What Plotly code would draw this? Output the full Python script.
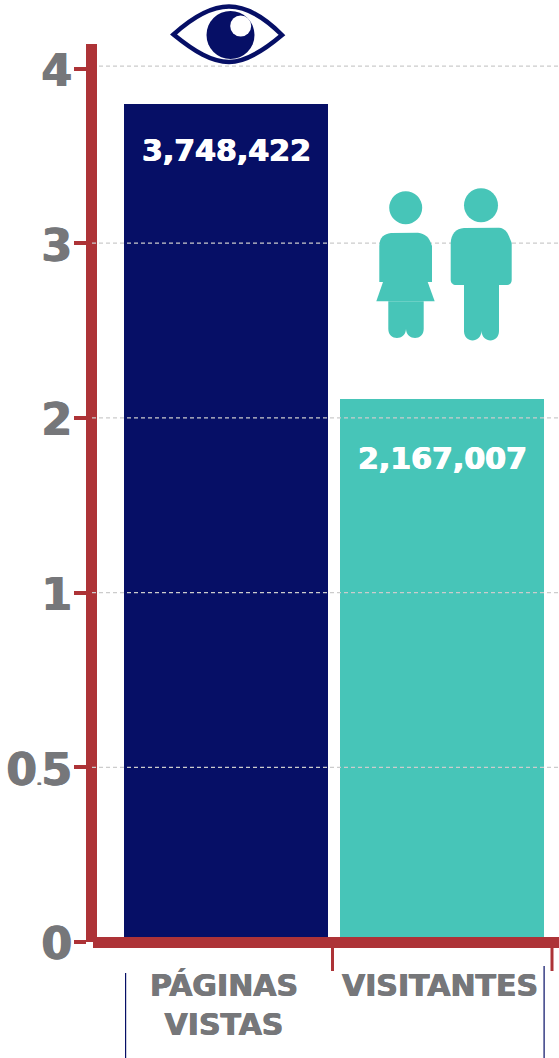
import plotly.graph_objects as go

categories = ["PÁGINAS<br>VISTAS", "VISITANTES"]
bar_levels = [4.797, 3.108]
value_labels = ["3,748,422", "2,167,007"]
label_levels = [4.533, 2.765]
bar_colors = ["#060f66", "#47c5b8"]
tick_levels = [0, 1, 2, 3, 4, 5]
tick_labels = ["0", "0<span style='font-size:12px'>.</span>5", "1", "2", "3", "4"]
grid_levels = [1, 2, 3, 4, 5.014]

RED = "#ad3337"
NAVY = "#060f66"
TEAL = "#47c5b8"
GRAY = "#76777a"
FONT = "DejaVu Sans"

W, H = 559, 1058
L, R, T, B = 97, 559, 44, 942


def px(x):
    return (x - L) / (R - L)


def py(y):
    return (B - y) / (B - T)


def path(*cmds):
    out = []
    for c in cmds:
        if isinstance(c, str):
            out.append(c)
        else:
            out.append(f"{px(c[0]):.5f},{py(c[1]):.5f}")
    return " ".join(out)


def rect(x0, y0, x1, y1, color):
    return dict(type="rect", xref="paper", yref="paper", x0=px(x0), x1=px(x1), y0=py(y1), y1=py(y0),
                fillcolor=color, line_width=0, layer="above")


def circle(cx, cy, r, color):
    return dict(type="circle", xref="paper", yref="paper", x0=px(cx - r), x1=px(cx + r), y0=py(cy + r), y1=py(cy - r),
                fillcolor=color, line_width=0, layer="above")


def filled(d, color=TEAL):
    return dict(type="path", xref="paper", yref="paper", path=d, fillcolor=color, line_width=0, layer="above")


shapes = []
# x axis bar and ticks
shapes.append(rect(93, 937, 559, 948, RED))
shapes.append(rect(331, 948, 334, 971, RED))
shapes.append(rect(550.5, 948, 553.5, 971, RED))
# navy separators
shapes.append(rect(125, 973, 126.2, 1058, NAVY))
shapes.append(rect(543.5, 966, 544.7, 1058, NAVY))
# dashed grid over the bars
for g in grid_levels:
    shapes.append(dict(type="line", xref="paper", yref="y", x0=px(92 if g < 5 else 99), x1=1, y0=g, y1=g,
                       line=dict(color="#cccccc", width=1.2, dash="4px,3px"), layer="above"))

# eye
shapes.append(dict(type="path", xref="paper", yref="paper",
                   path=path("M", (173.5, 34.5),
                             "C", (195, 15), (212, 6.5), (229, 6.5),
                             "C", (245, 6.5), (262, 15), (282, 35),
                             "C", (262, 52), (245, 62), (229, 62),
                             "C", (212, 62), (195, 52), (173.5, 34.5), "Z"),
                   fillcolor="rgba(0,0,0,0)", line=dict(color=NAVY, width=4.5), layer="above"))
shapes.append(circle(230.5, 35, 24, NAVY))
shapes.append(circle(240.7, 26, 10.5, "#ffffff"))

# girl
shapes.append(circle(405.7, 207.7, 16.5, TEAL))
shapes.append(filled(path("M", (379.3, 282), "L", (379.3, 246), "C", (379.5, 237), (384, 234), (391, 233),
                          "L", (418, 232.7), "C", (425, 234), (429, 236), (432, 246), "L", (432, 282), "Z")))
shapes.append(filled(path("M", (383, 282), "L", (427.7, 282), "L", (434.7, 301.3), "L", (376.3, 301.3), "Z")))
shapes.append(filled(path("M", (388.3, 301.3), "L", (423.7, 301.3), "L", (423.7, 329),
                          "C", (423.7, 341), (406.5, 341), (406, 329), "C", (405.5, 341), (388.3, 341), (388.3, 329), "Z")))
# boy
shapes.append(circle(481, 205.3, 17, TEAL))
shapes.append(filled(path("M", (450.7, 280), "L", (450.7, 243), "C", (451, 234), (456, 228.5), (464, 228),
                          "L", (499, 227.7), "C", (506, 228.5), (508, 233), (511.7, 243), "L", (511.7, 280),
                          "C", (511.7, 283), (510, 285), (507, 285), "L", (456, 285),
                          "C", (453, 285), (450.7, 283), (450.7, 280), "Z")))
shapes.append(filled(path("M", (464, 285), "L", (499, 285), "L", (499, 331),
                          "C", (499, 343.5), (482, 343.5), (481.5, 331), "C", (481, 343.5), (464, 343.5), (464, 331), "Z")))

fig = go.Figure(go.Bar(x=categories, y=bar_levels, marker=dict(color=bar_colors, line_width=0), hoverinfo="skip"))

annotations = [
    dict(x=c, y=y, text=t, xref="x", yref="y", showarrow=False, xanchor="center", yanchor="middle",
         font=dict(family=FONT, size=30, color="#ffffff", weight=700,
                   shadow="0.6px 0 0 #ffffff, -0.6px 0 0 #ffffff"))
    for c, y, t in zip(categories, label_levels, value_labels)
]

fig.update_layout(
    width=W, height=H, autosize=False,
    margin=dict(l=L, r=W - R, t=T, b=H - B, pad=0),
    paper_bgcolor="#ffffff", plot_bgcolor="#ffffff",
    bargap=12 / 216, showlegend=False,
    shapes=shapes, annotations=annotations,
    font=dict(family=FONT, color=GRAY),
    xaxis=dict(type="category", range=[(L - 226) / 216, (R - 226) / 216], showgrid=False, showline=False,
               zeroline=False, ticks="", ticklabelstandoff=23, ticklabelshift=-2, tickangle=0,
               tickfont=dict(family=FONT, size=30, color=GRAY, weight=700,
                             shadow="0.5px 0 0 #76777a, -0.5px 0 0 #76777a"), automargin=False),
    yaxis=dict(range=[0, (B - T) / 174.7], tickmode="array", tickvals=tick_levels, ticktext=tick_labels,
               showgrid=False, zeroline=False, showline=True, linecolor=RED, linewidth=11,
               ticks="outside", ticklen=12, tickwidth=4, tickcolor=RED, ticklabelstandoff=-7, ticklabelshift=2,
               tickfont=dict(family=FONT, size=44, color=GRAY, weight=700,
                             shadow="0.7px 0 0 #76777a, -0.7px 0 0 #76777a"), automargin=False),
)

fig.write_html("out.html", post_script="document.body.style.margin='0';document.body.style.overflow='hidden';",
               config=dict(displayModeBar=False))
